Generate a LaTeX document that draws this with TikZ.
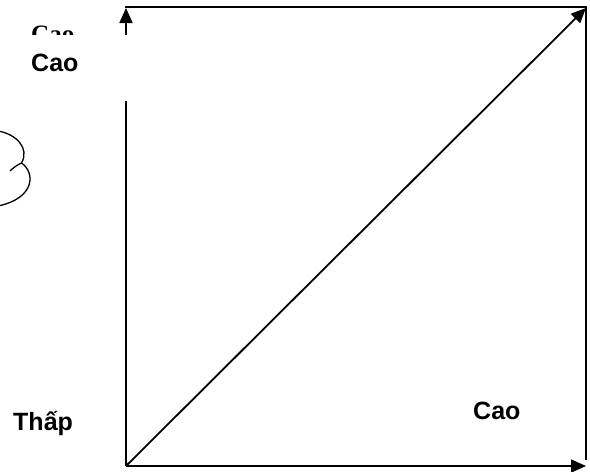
\documentclass[tikz,border=0pt]{standalone}
\usepackage{fontspec}
\setmainfont{Liberation Serif}
\setsansfont{Liberation Sans}
\usetikzlibrary{arrows.meta}
\begin{document}
\begin{tikzpicture}[x=1pt,y=-1pt,
  axis/.style={line width=1.8pt,-{Triangle[length=15pt,width=13pt]}},
  frame/.style={line width=1.8pt},
  lbl/.style={anchor=base west,inner sep=0pt,font=\sffamily\bfseries\fontsize{25}{30}\selectfont},
  serlbl/.style={anchor=base west,inner sep=0pt,font=\rmfamily\bfseries\fontsize{25}{30}\selectfont},
  cloud/.style={line width=1.3pt}]
\useasboundingbox (0,0) rectangle (590,472);
\clip (0,0) rectangle (590,472);
\coordinate (O) at (126,466);
\coordinate (Y) at (126,8);
\coordinate (X) at (586,466);
\coordinate (D) at (586,8);
\coordinate (TL) at (125,7);
\coordinate (TR) at (586,7);
\coordinate (BR) at (586,460);
% frame
\draw[frame] (TL) -- (TR) -- (BR);
% axes
\draw[axis] (O) -- (Y);
\draw[axis] (O) -- (X);
\draw[axis] (O) -- (D);
% clipped serif label
\node[serlbl] (cao1) at (31,42) {Cao};
% white cover
\fill[white] (0,35) rectangle (140,101);
\node[lbl] (cao2) at (31,71) {Cao};
\node[lbl] (thap) at (13,430) {Thấp};
\node[lbl] (cao3) at (473,419) {Cao};
% cloud fragment
\coordinate (cusp) at (21.5,163);
\draw[cloud] (-2,131) .. controls (16,134) and (30,148) .. (cusp);
\draw[cloud] (cusp) .. controls (35,172) and (36,198) .. (-2,206);
\draw[cloud] (cusp) .. controls (17,165) and (13,168) .. (10,171);
\end{tikzpicture}
\end{document}
